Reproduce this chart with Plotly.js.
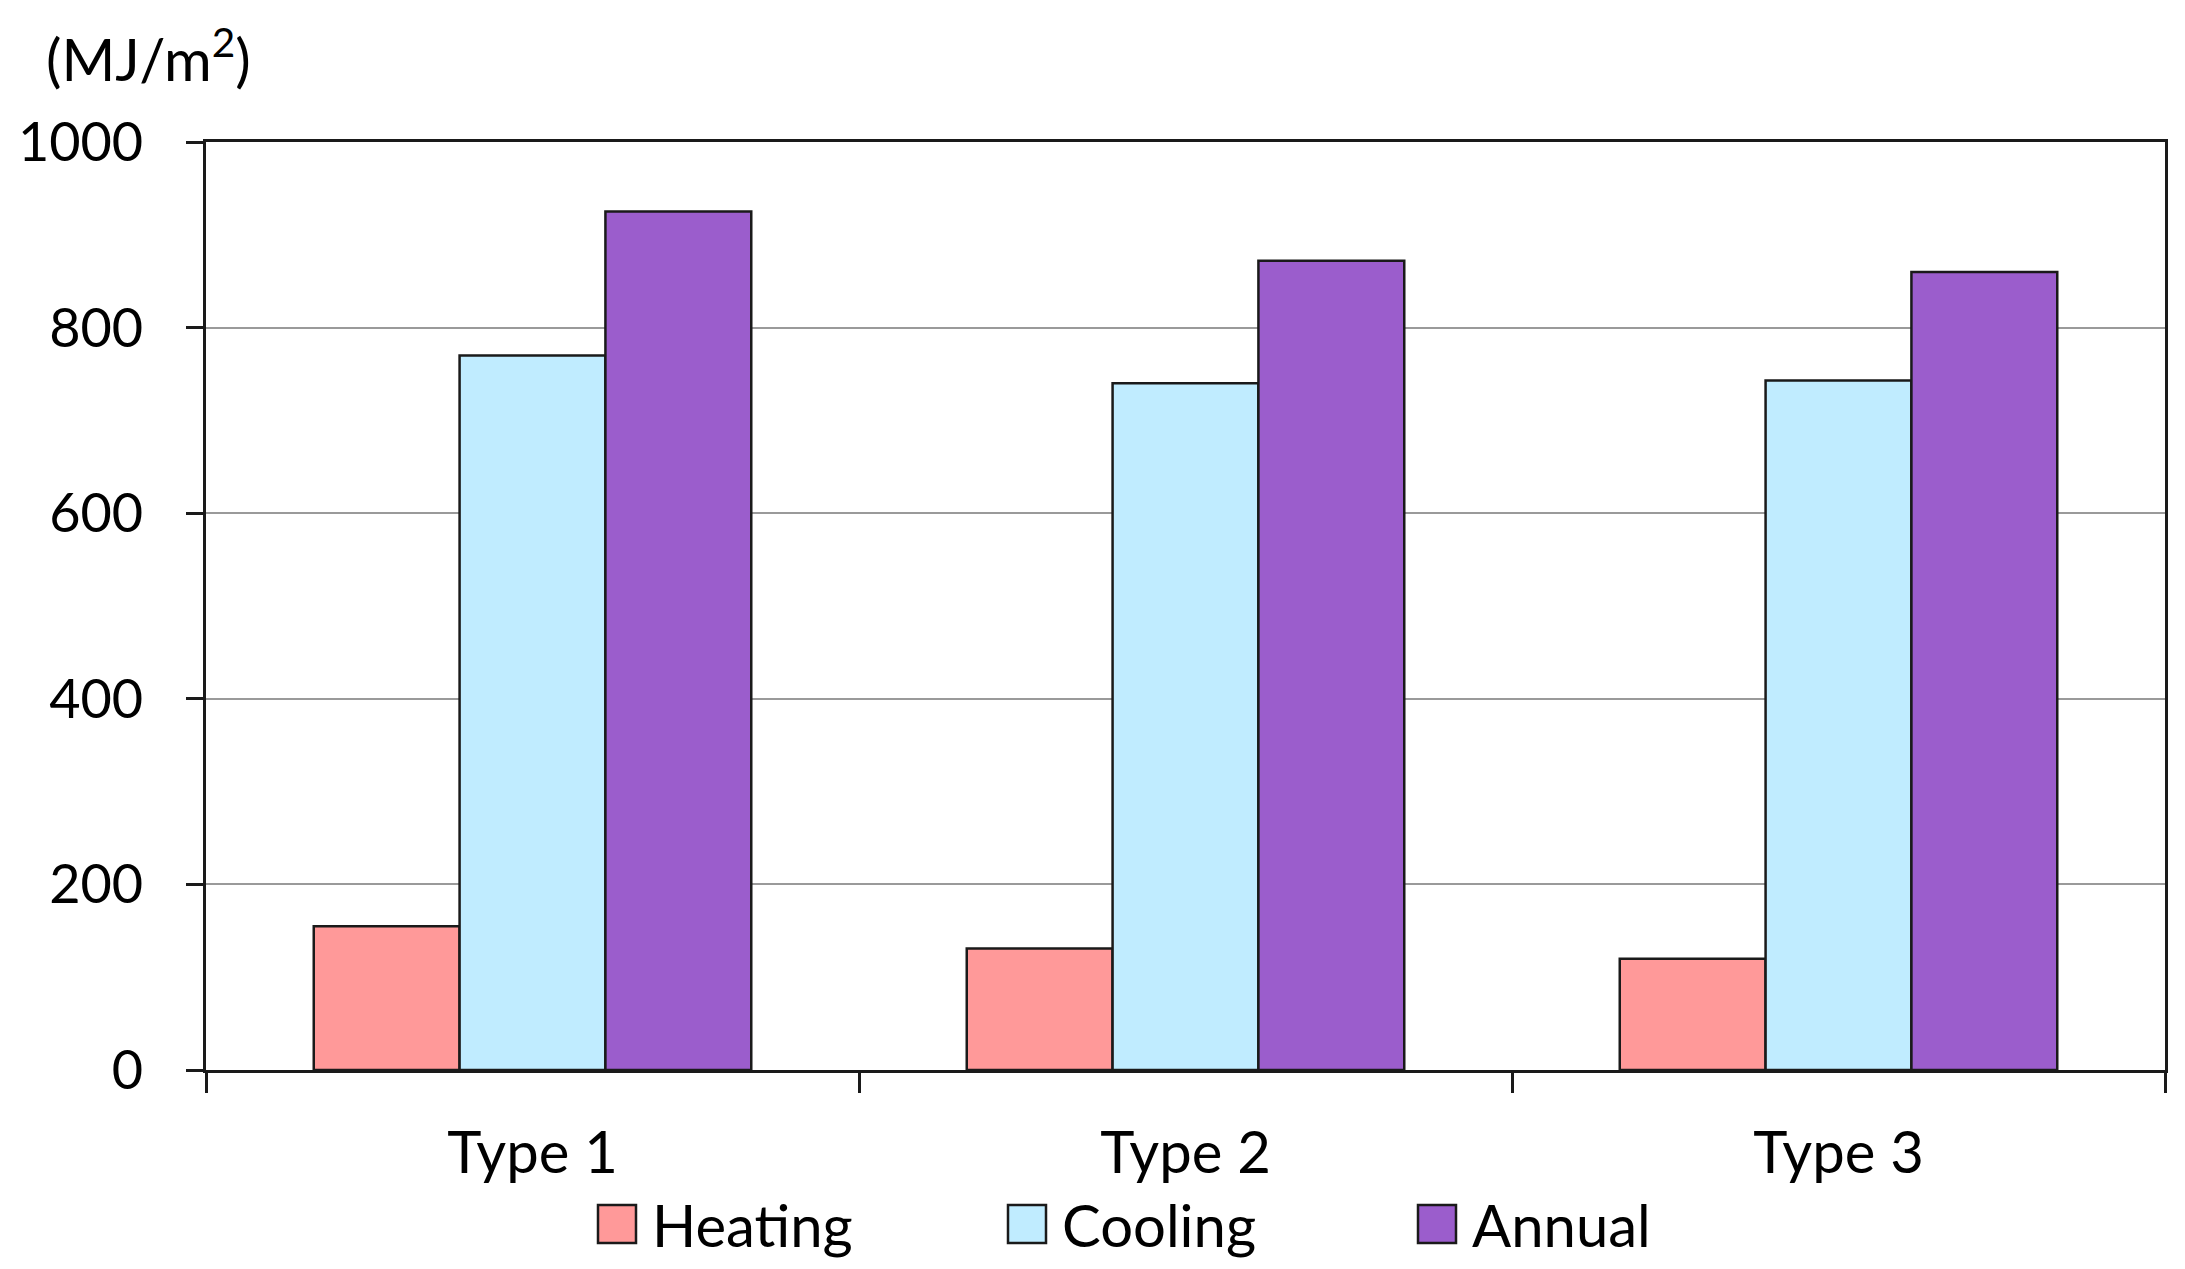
<!DOCTYPE html>
<html>
<head>
<meta charset="utf-8">
<script src="https://cdn.plot.ly/plotly-3.0.1.min.js"></script>
<style>
html,body{margin:0;padding:0;background:#fff;}
#chart{width:2185px;height:1269px;}
</style>
</head>
<body>
<div id="chart"></div>
<script>
const categories = ["Type 1", "Type 2", "Type 3"];
const seriesNames = ["Heating", "Cooling", "Annual"];
const heating = [155, 131, 120];
const cooling = [770, 740, 743];
const annual = [925, 872, 860];
const yTicks = [0, 200, 400, 600, 800, 1000];
const unitLabel = "(MJ/m<sup>2</sup>)";
const colors = ["#FF9999", "#C0ECFF", "#9B5DCC"];

const W = 2185, H = 1269;
const L = 206, R = 20, T = 142, B = 199;
const pw = W - L - R, ph = H - T - B;
const FONT = "Lato, 'Open Sans', sans-serif";

const seriesValues = [heating, cooling, annual];
const traces = seriesValues.map((vals, i) => ({
  type: "bar",
  name: seriesNames[i],
  x: categories,
  y: vals,
  marker: { color: colors[i], line: { color: "#1a1a1a", width: 2.5 } },
  showlegend: false,
  hoverinfo: "x+y+name"
}));

// manual legend (large squares like the original)
const px2x = px => (px - L) / pw;
const py2y = py => (H - B - py) / ph;
const shapes = [];
const annotations = [{
  text: unitLabel, xref: "paper", yref: "paper",
  x: px2x(44), y: py2y(55), xanchor: "left", yanchor: "middle",
  showarrow: false, font: { family: FONT, size: 58, color: "#000" }
}];
const legY = 1224, sq = 38, legStart = 598, legStep = 410;
seriesNames.forEach((n, i) => {
  const x0 = legStart + i * legStep;
  shapes.push({
    type: "rect", xref: "paper", yref: "paper",
    x0: px2x(x0), x1: px2x(x0 + sq), y0: py2y(legY + sq / 2), y1: py2y(legY - sq / 2),
    fillcolor: colors[i], line: { color: "#1a1a1a", width: 2.5 }
  });
  annotations.push({
    text: n, xref: "paper", yref: "paper",
    x: px2x(x0 + sq + 14), y: py2y(legY), xanchor: "left", yanchor: "middle",
    showarrow: false, font: { family: FONT, size: 58, color: "#000" }
  });
});

const layout = {
  width: W, height: H,
  margin: { l: L, r: R, t: T, b: B },
  paper_bgcolor: "#fff", plot_bgcolor: "#fff",
  font: { family: FONT, size: 54, color: "#000" },
  barmode: "group", bargap: 0.33, bargroupgap: 0,
  showlegend: false,
  xaxis: {
    type: "category",
    tickson: "boundaries",
    ticks: "outside", ticklen: 20, tickwidth: 3, tickcolor: "#1a1a1a",
    showline: true, linecolor: "#1a1a1a", linewidth: 3, mirror: true,
    showgrid: false, zeroline: false,
    tickfont: { family: FONT, size: 58, color: "#000" },
    ticklabelstandoff: 30
  },
  yaxis: {
    range: [0, 1000], tickvals: yTicks, ticktext: yTicks.map(String),
    ticks: "outside", ticklen: 17, tickwidth: 3, tickcolor: "#1a1a1a",
    showline: true, linecolor: "#1a1a1a", linewidth: 3, mirror: true,
    showgrid: true, gridcolor: "#9a9a9a", gridwidth: 2,
    zeroline: false,
    tickfont: { family: FONT, size: 54, color: "#000" },
    ticklabelstandoff: 32
  },
  shapes: shapes,
  annotations: annotations
};

Plotly.newPlot("chart", traces, layout, { displayModeBar: false, staticPlot: true });
</script>
</body>
</html>
